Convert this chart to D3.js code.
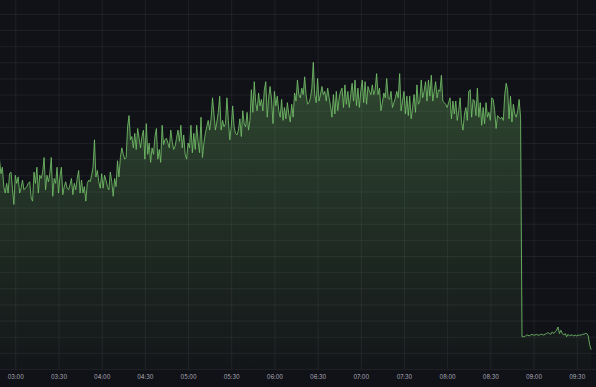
<!DOCTYPE html>
<html><head><meta charset="utf-8">
<script src="https://cdn.jsdelivr.net/npm/d3@7"></script>
<style>html,body{margin:0;padding:0;background:#111217;overflow:hidden}</style>
</head><body><svg id="c" width="596" height="387"></svg>
<script>
// ---- data ----
const seriesStart = "2024-01-01T02:49:00";
const stepMinutes = 1;
const values = [
 130,121,125,113,109,115,109,121,122,112, 102,120,115,119,109,112,117,111,112,113,
 115,116,106,104,122,115,125,109,120,118, 122,131,111,120,116,121,131,107,118,115,
 125,109,119,125,108,113,116,112,111,114, 118,108,115,111,118,123,109,117,109,113,
 104,115,117,116,120,125,142,119,123,116,
 112,121,112,120,117,113,111,122,116,107, 118,113,129,119,131,137,133,130,131,150,
 157,142,144,137,146,136,149,143,137,144, 148,130,152,133,140,128,137,133,144,149,
 130,136,128,151,139,142,143,140,137,148, 141,136,138,143,148,141,151,137,145,133,
 130,140,137,151,134,146,
 136,151,141,134,156,131,140,146,150,154, 148,155,168,158,148,153,159,169,148,154,
 150,152,168,154,142,150,163,150,146,145, 148,155,144,160,152,150,159,148,154,173,
 159,178,165,160,171,163,167,160,173,178, 156,168,175,167,152,172,163,169,160,156,
 167,154,162,155,165,158,153,164,156,171, 166,179,170,
 168,174,170,181,170,164,165,168,174,190, 170,165,180,166,170,175,170,172,166,174,
 168,163,156,170,158,172,160,168,172,174, 162,176,164,172,162,170,177,166,179,163,
 174,162,172,179,165,178,164,175,172,170, 176,170,173,183,170,174,160,165,171,168,
 180,168,167,172,162,165,168,172,168,183,
 160,166,172,158,169,157,169,155,162,170, 159,176,164,166,179,168,172,178,166,179,
 169,182,166,172,178,168,173,172,182,166, 165,164,162,165,168,155,166,158,166,154,
 160,168,153,148,158,162,154,172,173,156, 167,166,157,174,156,165,151,162,152,165,
 156,159,154,168,167,160,149,157,156,155, 156,154,170,177,173,155,169,153,164,158,
 156,160,167,156,
 20,20,20,21,21,20.5,21,21.5,21,21, 21.5,21,21,21.5,21.5,21,21.5,22,22.5,22,
 21.5,23,22,23,24,26,22,24,22,21, 22,20,21.5,20.5,21,21,20.5,21,20.5,21,
 21,21,21.5,21.5,22,22,20.5,15,12
];
const viewRange = ["2024-01-01T02:49:22", "2024-01-01T09:43:24"];
const tickLabels = ["03:00","03:30","04:00","04:30","05:00","05:30","06:00",
                    "06:30","07:00","07:30","08:00","08:30","09:00","09:30"];
const yMax = 228.6;
const yTicks = d3.range(0, 221, 10);

// ---- chart ----
const W = 596, H = 387, plotBottom = 369;
const parse = d3.timeParse("%Y-%m-%dT%H:%M:%S");
const t0 = parse(seriesStart);
const data = values.map((v, i) => ({t: d3.timeMinute.offset(t0, i * stepMinutes), v}));
const x = d3.scaleTime().domain(viewRange.map(parse)).range([0, W]);
const y = d3.scaleLinear().domain([0, yMax]).range([plotBottom, 0]);
const tickDates = tickLabels.map(s => d3.timeParse("%Y-%m-%d %H:%M")("2024-01-01 " + s));

const svg = d3.select("#c");
svg.append("rect").attr("width", W).attr("height", H).attr("fill", "#111217");

const defs = svg.append("defs");
const grad = defs.append("linearGradient").attr("id", "fillGrad")
  .attr("gradientUnits", "userSpaceOnUse").attr("x1", 0).attr("x2", 0)
  .attr("y1", y(yMax)).attr("y2", y(0));
grad.append("stop").attr("offset", 0).attr("stop-color", "#73BF69").attr("stop-opacity", 0.38);
grad.append("stop").attr("offset", 1).attr("stop-color", "#73BF69").attr("stop-opacity", 0.02);
defs.append("clipPath").attr("id", "clip").append("rect")
  .attr("x", 0).attr("y", 0).attr("width", W).attr("height", plotBottom);

const gridColor = "rgba(204,204,220,0.08)";
// horizontal grid
svg.append("g")
  .call(d3.axisLeft(y).tickValues(yTicks).tickSize(-W).tickFormat(""))
  .call(g => g.select(".domain").remove())
  .call(g => g.selectAll("line").attr("stroke", gridColor).attr("stroke-width", 1));
// vertical grid
svg.append("g").attr("transform", `translate(0,${plotBottom})`)
  .call(d3.axisBottom(x).tickValues(tickDates).tickSize(-plotBottom).tickFormat(""))
  .call(g => g.select(".domain").remove())
  .call(g => g.selectAll("line").attr("stroke", gridColor).attr("stroke-width", 1));

const area = d3.area().x(d => x(d.t)).y0(y(0)).y1(d => y(d.v));
const line = d3.line().x(d => x(d.t)).y(d => y(d.v));
const plot = svg.append("g").attr("clip-path", "url(#clip)");
plot.append("path").datum(data).attr("d", area).attr("fill", "url(#fillGrad)");
plot.append("path").datum(data).attr("d", line).attr("fill", "none")
  .attr("stroke", "#73BF69").attr("stroke-opacity", 0.85)
  .attr("stroke-width", 1).attr("stroke-linejoin", "round");

// x axis labels
svg.append("g").attr("transform", `translate(0,${plotBottom})`)
  .call(d3.axisBottom(x).tickValues(tickDates).tickSize(0).tickPadding(6)
        .tickFormat(d3.timeFormat("%H:%M")))
  .call(g => g.select(".domain").remove())
  .call(g => g.selectAll("text").attr("fill", "rgba(204,204,220,0.85)")
        .attr("font-family", "Inter, sans-serif").attr("font-size", "5.8px"));
</script></body></html>
